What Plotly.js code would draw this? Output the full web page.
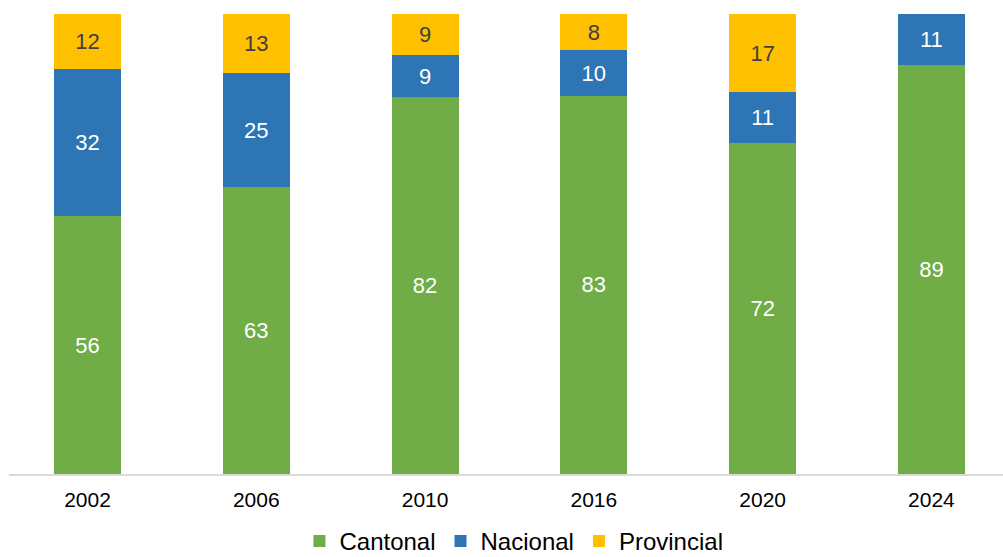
<!DOCTYPE html>
<html>
<head>
<meta charset="utf-8">
<script src="https://cdn.plot.ly/plotly-3.0.1.min.js"></script>
<style>html,body{margin:0;padding:0;background:#fff;}#chart{width:1003px;height:557px;}</style>
</head>
<body>
<div id="chart"></div>
<script>
var years = ['2002', '2006', '2010', '2016', '2020', '2024'];
var cantonal = [56, 63, 82, 83, 72, 89];
var nacional = [32, 25, 9, 10, 11, 11];
var provincial = [12, 13, 9, 8, 17, 0];

function labels(arr) { return arr.map(function (v) { return v > 0 ? String(v) : ''; }); }

var FONT = 'Liberation Sans, Arial, sans-serif';
var common = {
  type: 'bar',
  x: years,
  textposition: 'inside',
  insidetextanchor: 'middle',
  constraintext: 'none',
  textangle: 0,
  hoverinfo: 'skip'
};

var traces = [
  Object.assign({}, common, {
    name: 'Cantonal', y: cantonal, text: labels(cantonal),
    marker: { color: '#70AD47', line: { width: 0 } },
    textfont: { color: '#FFFFFF', size: 22, family: FONT }
  }),
  Object.assign({}, common, {
    name: 'Nacional', y: nacional, text: labels(nacional),
    marker: { color: '#2E75B6', line: { width: 0 } },
    textfont: { color: '#FFFFFF', size: 22, family: FONT }
  }),
  Object.assign({}, common, {
    name: 'Provincial', y: provincial, text: labels(provincial),
    marker: { color: '#FFC000', line: { width: 0 } },
    textfont: { color: '#404040', size: 22, family: FONT }
  })
];

var layout = {
  width: 1003, height: 557,
  margin: { l: 9, r: 0, t: 14, b: 83, pad: 0, autoexpand: false },
  paper_bgcolor: '#ffffff', plot_bgcolor: '#ffffff',
  barmode: 'stack', barnorm: 'percent', bargap: 0.603,
  font: { family: FONT, color: '#000000' },
  xaxis: {
    type: 'category', range: [-0.465, 5.424],
    showline: true, linecolor: '#D9D9D9', linewidth: 1.5,
    showgrid: false, zeroline: false, ticks: '',
    ticklabelstandoff: 6, automargin: false,
    tickfont: { size: 21, color: '#000000' }, fixedrange: true
  },
  yaxis: {
    range: [0, 100], visible: false, showgrid: false, zeroline: false, fixedrange: true
  },
  showlegend: true,
  legend: {
    orientation: 'h', x: 0.508, xanchor: 'center',
    yref: 'container', y: 0.028, yanchor: 'middle',
    font: { size: 24, color: '#000000' }, traceorder: 'normal',
    itemwidth: 30
  }
};

Plotly.newPlot('chart', traces, layout, { displayModeBar: false, staticPlot: true });
</script>
</body>
</html>
